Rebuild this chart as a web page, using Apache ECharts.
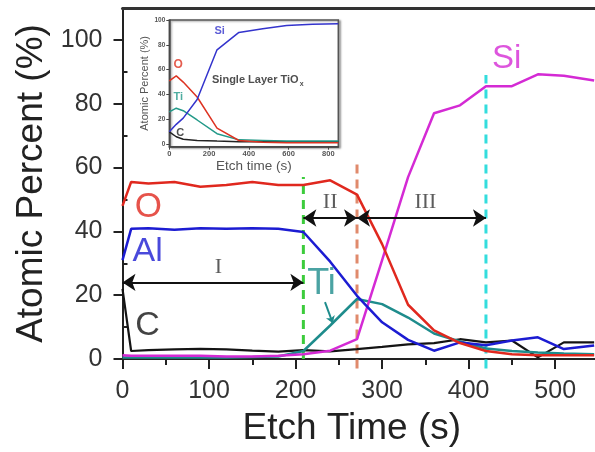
<!DOCTYPE html>
<html>
<head>
<meta charset="utf-8">
<script src="https://cdn.jsdelivr.net/npm/echarts@6/dist/echarts.min.js"></script>
<style>
  html, body { margin: 0; padding: 0; background: #fff; }
  #chart { width: 595px; height: 452px; }
</style>
</head>
<body>
<div id="chart"></div>
<script>
// Depth profile: sputter time (s) vs atomic percent for each element
const times     = [0, 10, 30, 60, 90, 120, 150, 180, 209, 240, 271, 300, 330, 360, 390, 420, 450, 480, 510, 545];
const oxygen    = [48, 55.5, 55, 55.5, 54, 54.5, 55.5, 54.5, 54.5, 56, 51.5, 36, 17, 9, 5, 2.5, 1.5, 1.2, 1.2, 1.2];
const aluminium = [31, 40.8, 41, 40.5, 41, 40.8, 41, 40.8, 39.8, 30.5, 19.8, 11.5, 6, 2.6, 5.2, 4.3, 5.8, 6.8, 3.1, 4.2];
const silicon   = [1.2, 1, 1, 1, 1, 0.8, 0.8, 1, 1.5, 2.6, 6.2, 31, 57, 77, 79.5, 85.5, 85.5, 89.2, 88.8, 87.3];
const titanium  = [0.5, 0.5, 0.5, 0.5, 0.5, 0.5, 0.6, 0.8, 2.5, 10.5, 18.8, 17.2, 13, 8, 5.5, 3.3, 2.5, 2, 1.7, 1.5];
const carbon    = [22, 2.5, 2.8, 3, 3.2, 3, 2.6, 2.3, 2.8, 2.4, 3.1, 3.8, 4.6, 5, 6.2, 5.2, 5.8, 0.5, 5.2, 5.2];

// Region boundaries (s) and their dashed-line heights (%)
const boundaries   = [209, 271, 420];
const boundaryTops = [57, 62, 89];

// Axis tick values
const yMajorTicks = [0, 20, 40, 60, 80, 100];
const yMinorTicks = [10, 30, 50, 70, 90];
const xMajorTicks = [0, 100, 200, 300, 400, 500];
const xMinorTicks = [50, 150, 250, 350, 450];

// Inset: single-layer TiOx profile
const insetTimes = [0, 35, 70, 140, 240, 350, 470, 590, 720, 850];
const insetSi    = [10, 16, 21, 36, 76, 90, 93, 95.5, 96.5, 97];
const insetO     = [51, 55, 50, 38, 13, 3, 1.5, 1.2, 1.2, 1.2];
const insetTi    = [26, 29, 27, 19.5, 8.5, 3.5, 3, 2.5, 2.5, 2.5];
const insetC     = [10, 6, 4, 3, 2.5, 2, 2, 2, 2, 2];
const insetXTicks = [0, 200, 400, 600, 800];
const insetYTicks = [0, 20, 40, 60, 80, 100];

const pairs = (xs, ys) => xs.map((x, i) => [x, ys[i]]);

const FONT = '"Liberation Sans", Arial, sans-serif';
const SERIF = '"Liberation Serif", "Times New Roman", serif';
const C_O = '#e0281e', C_AL = '#1c1cd2', C_SI = '#d42ad4', C_TI = '#1e8c8c', C_C = '#141414';

function profileLine(name, data, color, width, xi, yi) {
  return {
    name, type: 'line', data, xAxisIndex: xi, yAxisIndex: yi,
    showSymbol: false, symbol: 'none', smooth: false, clip: false,
    lineStyle: { color, width }, z: 3
  };
}

function textMark(text, at, color, size, family, xi, yi, extra) {
  return {
    type: 'scatter', xAxisIndex: xi, yAxisIndex: yi,
    data: [at], symbolSize: 1, itemStyle: { color: 'transparent' },
    silent: true, z: 5,
    label: Object.assign({
      show: true, position: 'inside', formatter: text,
      color, fontSize: size, fontFamily: family
    }, extra || {})
  };
}

function dashed(idx, color) {
  return {
    type: 'line', xAxisIndex: 0, yAxisIndex: 0, clip: false, showSymbol: false, symbol: 'none',
    data: [[boundaries[idx], idx === 0 ? 0 : -3], [boundaries[idx], boundaryTops[idx]]],
    lineStyle: { color, width: 3, type: [9, 6] }, z: 2
  };
}

function arrow(from, to, y) {
  return {
    type: 'lines', coordinateSystem: 'cartesian2d', xAxisIndex: 0, yAxisIndex: 0,
    data: [{ coords: [[from, y], [to, y]] }],
    symbol: ['arrow', 'arrow'], symbolSize: 13,
    lineStyle: { color: '#111', width: 2, opacity: 1 }, z: 4
  };
}

const chart = echarts.init(document.getElementById('chart'), null, { renderer: 'canvas' });

chart.setOption({
  animation: false,
  backgroundColor: '#fff',
  grid: [
    { left: 122.5, right: 0, top: 8, bottom: 90.5 },
    {
      left: 169.3, top: 20, width: 169, height: 126.7, show: true,
      backgroundColor: '#fff', borderColor: '#555', borderWidth: 1.5,
      shadowColor: 'rgba(0,0,0,0.35)', shadowBlur: 2, shadowOffsetX: 2, shadowOffsetY: 1
    }
  ],
  xAxis: [
    {
      gridIndex: 0, type: 'value', min: 0, max: 546, position: 'bottom',
      name: 'Etch Time (s)', nameLocation: 'middle', nameGap: 51,
      nameTextStyle: { fontSize: 37, fontFamily: FONT, color: '#222', padding: [0, 14, 0, 0] },
      axisLine: { show: true, lineStyle: { color: '#222', width: 2 } },
      axisTick: { show: true, customValues: xMajorTicks, length: 10, lineStyle: { color: '#222', width: 2 } },
      axisLabel: { customValues: xMajorTicks, fontSize: 25, fontFamily: FONT, color: '#333', margin: 20 },
      splitLine: { show: false }
    },
    {
      gridIndex: 0, type: 'value', min: 0, max: 546, position: 'bottom',
      axisLine: { show: false },
      axisTick: { show: true, customValues: xMinorTicks, length: 6, lineStyle: { color: '#222', width: 2 } },
      axisLabel: { show: false }, splitLine: { show: false }
    },
    {
      gridIndex: 0, type: 'value', min: 0, max: 546, position: 'top',
      axisLine: { show: true, onZero: false, lineStyle: { color: '#333', width: 3 } },
      axisTick: { show: false }, axisLabel: { show: false }, splitLine: { show: false }
    },
    {
      gridIndex: 1, type: 'value', min: 0, max: 850, position: 'bottom',
      name: 'Etch time (s)', nameLocation: 'middle', nameGap: 13,
      nameTextStyle: { fontSize: 13.5, fontFamily: FONT, color: '#555' },
      axisLine: { show: true, onZero: false, lineStyle: { color: '#444', width: 1.5 } },
      axisTick: { show: true, customValues: insetXTicks, length: 3, lineStyle: { color: '#444' } },
      axisLabel: { customValues: insetXTicks, fontSize: 7.5, fontWeight: 'bold', fontFamily: FONT, color: '#555', margin: 3 },
      splitLine: { show: false }
    }
  ],
  yAxis: [
    {
      gridIndex: 0, type: 'value', min: 0, max: 110,
      name: 'Atomic Percent (%)', nameLocation: 'middle', nameGap: 71,
      nameTextStyle: { fontSize: 37, fontFamily: FONT, color: '#222' },
      axisLine: { show: true, onZero: false, lineStyle: { color: '#222', width: 2 } },
      axisTick: { show: true, customValues: yMajorTicks, length: 9, lineStyle: { color: '#222', width: 2 } },
      axisLabel: { customValues: yMajorTicks, fontSize: 25, fontFamily: FONT, color: '#333', margin: 20 },
      splitLine: { show: false }
    },
    {
      gridIndex: 0, type: 'value', min: 0, max: 110,
      axisLine: { show: false },
      axisTick: { show: true, customValues: yMinorTicks, length: 5, lineStyle: { color: '#222', width: 2 } },
      axisLabel: { show: false }, splitLine: { show: false }
    },
    {
      gridIndex: 1, type: 'value', min: -2, max: 100,
      name: 'Atomic Percent (%)', nameLocation: 'middle', nameGap: 18,
      nameTextStyle: { fontSize: 11, fontFamily: FONT, color: '#555' },
      axisLine: { show: true, onZero: false, lineStyle: { color: '#444', width: 1.5 } },
      axisTick: { show: true, customValues: insetYTicks, length: 3, lineStyle: { color: '#444' } },
      axisLabel: { customValues: insetYTicks, fontSize: 6.5, fontWeight: 'bold', fontFamily: FONT, color: '#555', margin: 4 },
      splitLine: { show: false }
    }
  ],
  series: [
    // region boundaries
    dashed(0, '#3ccc3c'),
    dashed(1, '#e08a6c'),
    dashed(2, '#33dddd'),

    // main profile
    profileLine('C',  pairs(times, carbon),    C_C,  2.2, 0, 0),
    profileLine('Ti', pairs(times, titanium),  C_TI, 2.5, 0, 0),
    profileLine('Si', pairs(times, silicon),   C_SI, 2.5, 0, 0),
    profileLine('Al', pairs(times, aluminium), C_AL, 2.5, 0, 0),
    profileLine('O',  pairs(times, oxygen),    C_O,  2.5, 0, 0),

    // region arrows
    arrow(0, boundaries[0], 24),
    arrow(boundaries[0], boundaries[1], 44.2),
    arrow(boundaries[1], boundaries[2], 44.2),
    // pointer from the Ti label to its curve
    {
      type: 'lines', coordinateSystem: 'cartesian2d', xAxisIndex: 0, yAxisIndex: 0,
      data: [{ coords: [[234, 17.8], [243, 11.2]] }],
      symbol: ['none', 'arrow'], symbolSize: 7,
      lineStyle: { color: C_TI, width: 2, opacity: 1 }, z: 4
    },

    // element and region labels
    textMark('O',  [30, 47.5],  C_O,  35, FONT, 0, 0),
    textMark('Al', [29, 33.7],  C_AL, 34, FONT, 0, 0),
    textMark('C',  [29, 10.5],  C_C,  34, FONT, 0, 0),
    textMark('Ti', [230, 23.4], C_TI, 36, FONT, 0, 0),
    textMark('Si', [444, 94.1], C_SI, 33, FONT, 0, 0),
    textMark('I',   [110.8, 28.7], '#333', 22, SERIF, 0, 0),
    textMark('II',  [240, 49],     '#333', 22, SERIF, 0, 0),
    textMark('III', [350, 49],     '#333', 22, SERIF, 0, 0),

    // inset profile
    profileLine('C',  pairs(insetTimes, insetC),  '#222',  1.5, 3, 2),
    profileLine('Ti', pairs(insetTimes, insetTi), '#229988', 1.5, 3, 2),
    profileLine('O',  pairs(insetTimes, insetO),  '#dd3322', 1.5, 3, 2),
    profileLine('Si', pairs(insetTimes, insetSi), '#3333cc', 1.5, 3, 2),
    textMark('Si', [253, 91], '#3333cc', 11, FONT, 3, 2, { fontWeight: 'bold' }),
    textMark('O',  [45, 64],  '#dd3322', 12, FONT, 3, 2, { fontWeight: 'bold' }),
    textMark('Ti', [45, 38.4], '#229988', 11, FONT, 3, 2, { fontWeight: 'bold' }),
    textMark('C',  [55, 8.7], '#222', 11, FONT, 3, 2, { fontWeight: 'bold' }),
    textMark('{a|Single Layer TiO}{s|x}', [445, 52], '#222', 11, FONT, 3, 2, {
      rich: {
        a: { fontSize: 11, fontWeight: 'bold', fontFamily: FONT, color: '#222', lineHeight: 16 },
        s: { fontSize: 7, fontWeight: 'bold', fontFamily: FONT, color: '#222', lineHeight: 16, verticalAlign: 'bottom', padding: [7, 0, 0, 1] }
      }
    })
  ]
});
</script>
</body>
</html>
